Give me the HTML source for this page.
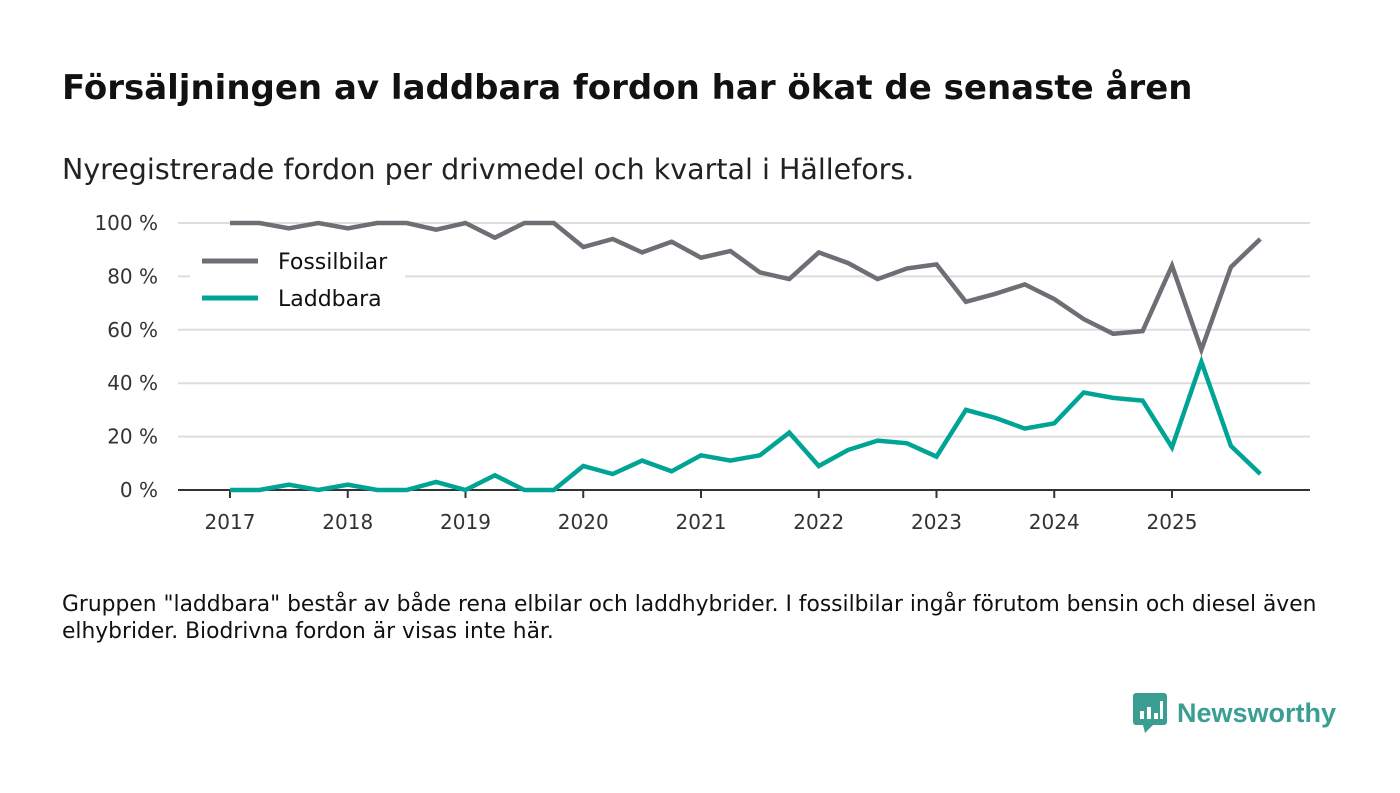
<!DOCTYPE html>
<html><head><meta charset="utf-8">
<style>
body{margin:0;width:1400px;height:793px;background:#fff;font-family:"DejaVu Sans","Liberation Sans",sans-serif;overflow:hidden;position:relative}
.t{position:absolute;left:62px;top:68px;font-size:34px;font-weight:bold;color:#111;margin:0;white-space:nowrap}
.s{position:absolute;left:62px;top:153px;font-size:28.5px;color:#222;white-space:nowrap}
.f{position:absolute;left:62px;top:591px;font-size:21.8px;line-height:27px;color:#111;white-space:nowrap}
.logo{position:absolute;left:1133px;top:693px;display:flex;align-items:center}
.logo span{font-size:27px;font-weight:bold;color:#3a9e93;margin-left:10px;font-family:"Liberation Sans",sans-serif}
</style></head><body>
<h1 class="t">Försäljningen av laddbara fordon har ökat de senaste åren</h1>
<div class="s">Nyregistrerade fordon per drivmedel och kvartal i Hällefors.</div>
<svg id="c" width="1400" height="560" style="position:absolute;left:0;top:0"></svg>
<div class="f">Gruppen "laddbara" består av både rena elbilar och laddhybrider. I fossilbilar ingår förutom bensin och diesel även<br>elhybrider. Biodrivna fordon är visas inte här.</div>
<div class="logo">
<svg width="34" height="40" viewBox="0 0 34 40"><rect x="0" y="0" width="34" height="32" rx="3" fill="#3a9e93"/><polygon points="10,32 20,32 12,40" fill="#3a9e93"/><rect x="7" y="18" width="4" height="8" fill="#fff"/><rect x="14" y="14" width="4" height="12" fill="#fff"/><rect x="21" y="20" width="4" height="6" fill="#fff"/><rect x="27" y="8" width="3" height="18" fill="#fff"/></svg>
<span>Newsworthy</span></div>
<script>
const years=[2017,2018,2019,2020,2021,2022,2023,2024,2025];
const yTicks=[0,20,40,60,80,100];
const fossil=[100,100,98,100,98,100,100,97.5,100,94.5,100,100,91,94,89,93,87,89.5,81.5,79,89,85,79,83,84.5,70.5,73.5,77,71.5,64,58.5,59.5,84,52.5,83.5,94];
const laddbara=[0,0,2,0,2,0,0,3,0,5.5,0,0,9,6,11,7,13,11,13,21.5,9,15,18.5,17.5,12.5,30,27,23,25,36.5,34.5,33.5,16,48,16.5,6];
const NS="http://www.w3.org/2000/svg",svg=document.getElementById('c');
const x=t=>230+(t-2017)*117.75;
const y=v=>490-v*2.67;
function mk(tag,a,txt){const e=document.createElementNS(NS,tag);for(const k in a)e.setAttribute(k,a[k]);if(txt!=null)e.textContent=txt;svg.appendChild(e);return e;}
yTicks.forEach(v=>{
 if(v>0){const g=mk('line',{x1:178,x2:1310,y1:y(v),y2:y(v),stroke:'#ddd','stroke-width':2});
 
 }
 const l=mk('text',{x:158,y:y(v)+7,'text-anchor':'end','font-size':20,fill:'#333'},v+' %');
 
 
});
const ax=mk('line',{x1:178,x2:1310,y1:490,y2:490,stroke:'#333','stroke-width':2});


years.forEach(yr=>{
 mk('line',{x1:x(yr),x2:x(yr),y1:490,y2:498,stroke:'#333','stroke-width':2});
 const l=mk('text',{x:x(yr),y:529,'text-anchor':'middle','font-size':20,fill:'#333'},yr);
 
 
});
function line(d,col,name){
 const p=d.map((v,i)=>(i?'L':'M')+x(2017+i/4).toFixed(1)+','+y(v).toFixed(1)).join('');
 const e=mk('path',{d:p,fill:'none',stroke:col,'stroke-width':4.5,'stroke-linejoin':'miter'});
 
 
}
line(fossil,'#6f6e74','fossilbilar-line');
line(laddbara,'#00a495','laddbara-line');
mk('rect',{x:190,y:240,width:215,height:80,fill:'#fff'});
[['Fossilbilar','#6f6e74',261],['Laddbara','#00a495',298]].forEach(([n,c,yy])=>{
 mk('line',{x1:202,x2:258,y1:yy,y2:yy,stroke:c,'stroke-width':5});
 const t=mk('text',{x:278,y:yy+8,'font-size':22,fill:'#111'},n);
 
 
});
</script>
</body></html>
